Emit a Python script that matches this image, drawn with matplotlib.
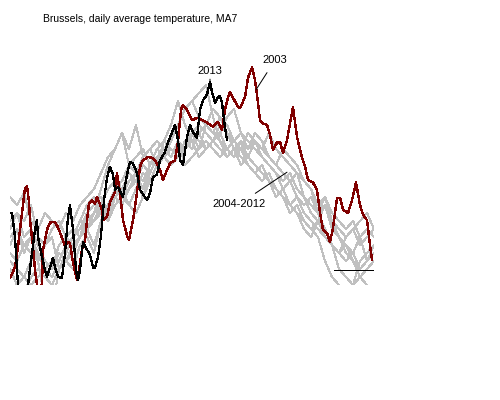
import matplotlib
matplotlib.use("Agg")
import matplotlib.pyplot as plt

plt.rcParams["font.family"] = ["Liberation Sans", "DejaVu Sans"]

## data: day of year and 7-day moving average temperature (deg C)

days_2003 = [1, 6, 9, 13, 16, 18, 20, 21, 24, 26, 28, 31, 33, 34, 38, 41, 46, 49, 53, 56,
             59, 61, 64, 68, 69, 73, 76, 78, 80, 83, 86, 88, 90, 93, 94, 98, 101, 106, 108, 111,
             114, 118, 120, 124, 128, 131, 134, 139, 143, 146, 151, 154, 158, 161, 166, 169, 172, 174, 178, 183,
             188, 194, 199, 204, 209, 213, 216, 219, 221, 224, 228, 231, 236, 239, 243, 246, 249, 251, 254, 258,
             261, 264, 268, 271, 274, 278, 281, 284, 288, 293, 296, 299, 304, 308, 311, 314, 318, 321, 324, 328,
             331, 334, 339, 343, 347, 351, 354, 358, 361, 363]
temp_2003 = [0.9, 2.2, 4.8, 9.0, 12.1, 12.3, 10.4, 8.1, 4.8, 1.9, 0.0, -0.9, 0.2, 4.4, 6.9, 7.8, 7.9, 7.2, 5.9, 4.8,
             5.4, 5.2, 2.8, 0.6, 1.0, 4.4, 5.6, 8.1, 10.2, 10.6, 10.2, 11.0, 10.4, 9.4, 8.1, 8.5, 10.4, 11.6, 14.0, 11.5,
             8.1, 6.2, 5.6, 8.1, 11.6, 14.8, 15.6, 16.0, 15.9, 15.6, 14.4, 13.1, 14.4, 15.2, 15.6, 17.9, 21.9, 22.5, 21.9, 20.6,
             20.9, 20.6, 20.2, 19.8, 20.4, 19.4, 21.9, 23.5, 24.1, 23.4, 22.5, 22.1, 23.5, 25.9, 27.2, 25.6, 22.8, 20.6, 20.2, 20.0,
             18.8, 16.9, 17.8, 17.9, 16.5, 18.1, 20.2, 22.2, 18.5, 15.9, 14.8, 13.1, 12.8, 11.9, 9.0, 6.9, 6.5, 5.4, 7.1, 10.9,
             10.9, 9.4, 9.0, 10.6, 12.8, 10.0, 8.8, 8.1, 5.0, 3.1]

days_2013 = [1, 3, 6, 8, 9, 11, 17, 19, 23, 26, 28, 29, 33, 36, 38, 41, 44, 46, 49, 53,
             56, 59, 61, 64, 67, 69, 71, 74, 78, 81, 84, 86, 89, 92, 95, 98, 101, 104, 106, 109,
             114, 118, 121, 124, 128, 131, 138, 141, 144, 148, 151, 156, 158, 164, 166, 169, 171, 174, 178, 181,
             184, 188, 191, 194, 198, 201, 203, 206, 209, 211, 213, 215, 218]
temp_2013 = [9.0, 9.0, 6.0, 1.9, 0.0, -1.2, -1.2, 0.0, 4.0, 6.9, 8.1, 6.0, 3.5, 1.9, 1.0, 2.2, 3.4, 2.2, 1.0, 0.9,
             4.0, 8.5, 10.0, 6.9, 1.9, 0.6, 1.9, 5.4, 4.4, 3.8, 2.2, 2.2, 3.5, 6.2, 10.6, 13.4, 14.8, 13.8, 11.9, 12.2,
             11.0, 13.8, 15.4, 15.2, 14.0, 11.9, 10.6, 11.5, 13.5, 13.8, 15.6, 16.6, 17.5, 19.4, 20.0, 18.1, 15.6, 15.0, 18.5, 20.0,
             19.1, 18.4, 21.9, 23.1, 23.8, 25.4, 24.1, 22.8, 23.5, 23.6, 22.8, 20.6, 18.1]

# 2004-2012, one value per week
days_week = list(range(1, 366, 7))
temp_2004 = [5, 7, 4, 6, 3, 5, 6, 2, 4, 6, 8, 7, 9, 10, 8, 11, 12, 10, 12, 14, 13, 15, 16, 17, 16, 18, 19,
             17, 20, 19, 21, 20, 18, 19, 17, 18, 17, 16, 15, 14, 13, 14, 11, 9, 8, 10, 7, 6, 5, 4, 6, 3, 4]
temp_2005 = [8, 9, 6, 7, 5, 3, 2, 4, 3, 5, 6, 9, 10, 11, 9, 12, 11, 13, 14, 12, 15, 17, 18, 20, 23, 20, 18,
             19, 17, 18, 19, 17, 16, 18, 17, 19, 18, 16, 15, 17, 16, 15, 13, 12, 9, 7, 5, 4, 3, 4, 2, 3, 5]
temp_2006 = [3, 2, 1, 0, 1, 2, 3, 4, 3, 2, 5, 6, 4, 8, 9, 11, 10, 12, 13, 11, 14, 16, 17, 18, 20, 22, 23,
             24, 25, 21, 18, 16, 17, 15, 16, 18, 17, 19, 17, 16, 15, 14, 13, 12, 10, 11, 9, 8, 7, 8, 6, 7, 6]
temp_2007 = [11, 10, 11.5, 8, 7, 9, 8, 7, 9, 8, 10, 11, 12, 14, 16, 17, 19, 15, 14, 16, 17, 15, 18, 17, 16, 17, 18,
             16, 17, 18, 17, 16, 17, 18, 16, 15, 14, 13, 12, 11, 10, 11, 9, 8, 7, 6, 5, 4, 5, 3, 2, 3, 4]
temp_2008 = [7, 9, 8, 10, 6, 5, 7, 8, 6, 5, 6, 7, 5, 8, 10, 12, 13, 15, 16, 17, 15, 16, 17, 16, 18, 17, 19,
             18, 17, 18, 20, 19, 17, 16, 15, 14, 15, 13, 12, 11, 10, 9, 7, 6, 8, 7, 5, 2, 1, 0, 3, 4, 5]
temp_2009 = [-1, 0, 1, 3, 4, 2, 1, 3, 5, 6, 7, 9, 8, 10, 12, 13, 12, 14, 13, 15, 14, 16, 17, 16, 18, 17, 19,
             20, 19, 18, 19, 21, 22, 19, 18, 17, 16, 15, 14, 12, 13, 11, 10, 11, 9, 10, 8, 6, 4, 3, 1, 2, 3]
temp_2010 = [2, 0, -1, 1, 2, 1, 0, 2, 3, 4, 6, 7, 8, 9, 10, 12, 11, 10, 9, 11, 13, 15, 16, 18, 20, 22, 23,
             21, 20, 19, 18, 17, 16, 17, 15, 14, 13, 14, 12, 11, 9, 10, 8, 7, 6, 3, 1, 0, -1, 0, 1, 0, -1]
temp_2011 = [4, 3, 5, 6, 4, 3, 2, 5, 6, 7, 6, 8, 9, 12, 15, 17, 19, 17, 20, 16, 17, 18, 17, 16, 18, 15, 16,
             17, 18, 17, 16, 17, 18, 17, 19, 18, 16, 15, 14, 13, 14, 12, 11, 10, 9, 11, 8, 7, 6, 7, 5, 6, 7]
temp_2012 = [6, 7, 5, 4, 3, -2, -3, 2, 4, 6, 8, 10, 11, 9, 8, 10, 11, 12, 14, 13, 15, 17, 16, 15, 16, 18, 17,
             19, 20, 22, 21, 19, 18, 17, 16, 15, 14, 13, 11, 12, 10, 9, 8, 7, 8, 6, 5, 4, 6, 7, 8, 9, 7]
grey_years = [temp_2004, temp_2005, temp_2006, temp_2007, temp_2008,
              temp_2009, temp_2010, temp_2011, temp_2012]

## plot

fig = plt.figure(figsize=(5, 4), dpi=100)
ax = fig.add_axes([0.02, 0.2875, 0.728, 0.6])

for temps in grey_years:
    ax.plot(days_week, temps, color="#c0c0c0", lw=0.75, antialiased=False)
ax.plot(days_2003, temp_2003, color="#800000", lw=1.0, antialiased=False)
ax.plot(days_2013, temp_2013, color="black", lw=0.9, antialiased=False)
ax.hlines(1.9, 325, 365, color="black", lw=0.72, antialiased=False)

ax.set_xlim(1, 365)
ax.set_ylim(0, 30)
ax.axis("off")

ax.annotate("2013", xy=(201, 25.3), xytext=(201, 26.7), ha="center", va="center", fontsize=8,
            arrowprops=dict(arrowstyle="-", lw=0.72, shrinkA=3, shrinkB=0))
ax.annotate("2003", xy=(247, 24.4), xytext=(266, 28.1), ha="center", va="center", fontsize=8,
            arrowprops=dict(arrowstyle="-", lw=0.72, shrinkA=4, shrinkB=0))
ax.annotate("2004-2012", xy=(278, 14.1), xytext=(230, 10.1), ha="center", va="center", fontsize=8,
            arrowprops=dict(arrowstyle="-", lw=0.72, shrinkA=4, shrinkB=0))

fig.text(0.086, 0.9525, "Brussels, daily average temperature, MA7", ha="left", va="center", fontsize=7.5)

fig.savefig("out.png", dpi=100)
